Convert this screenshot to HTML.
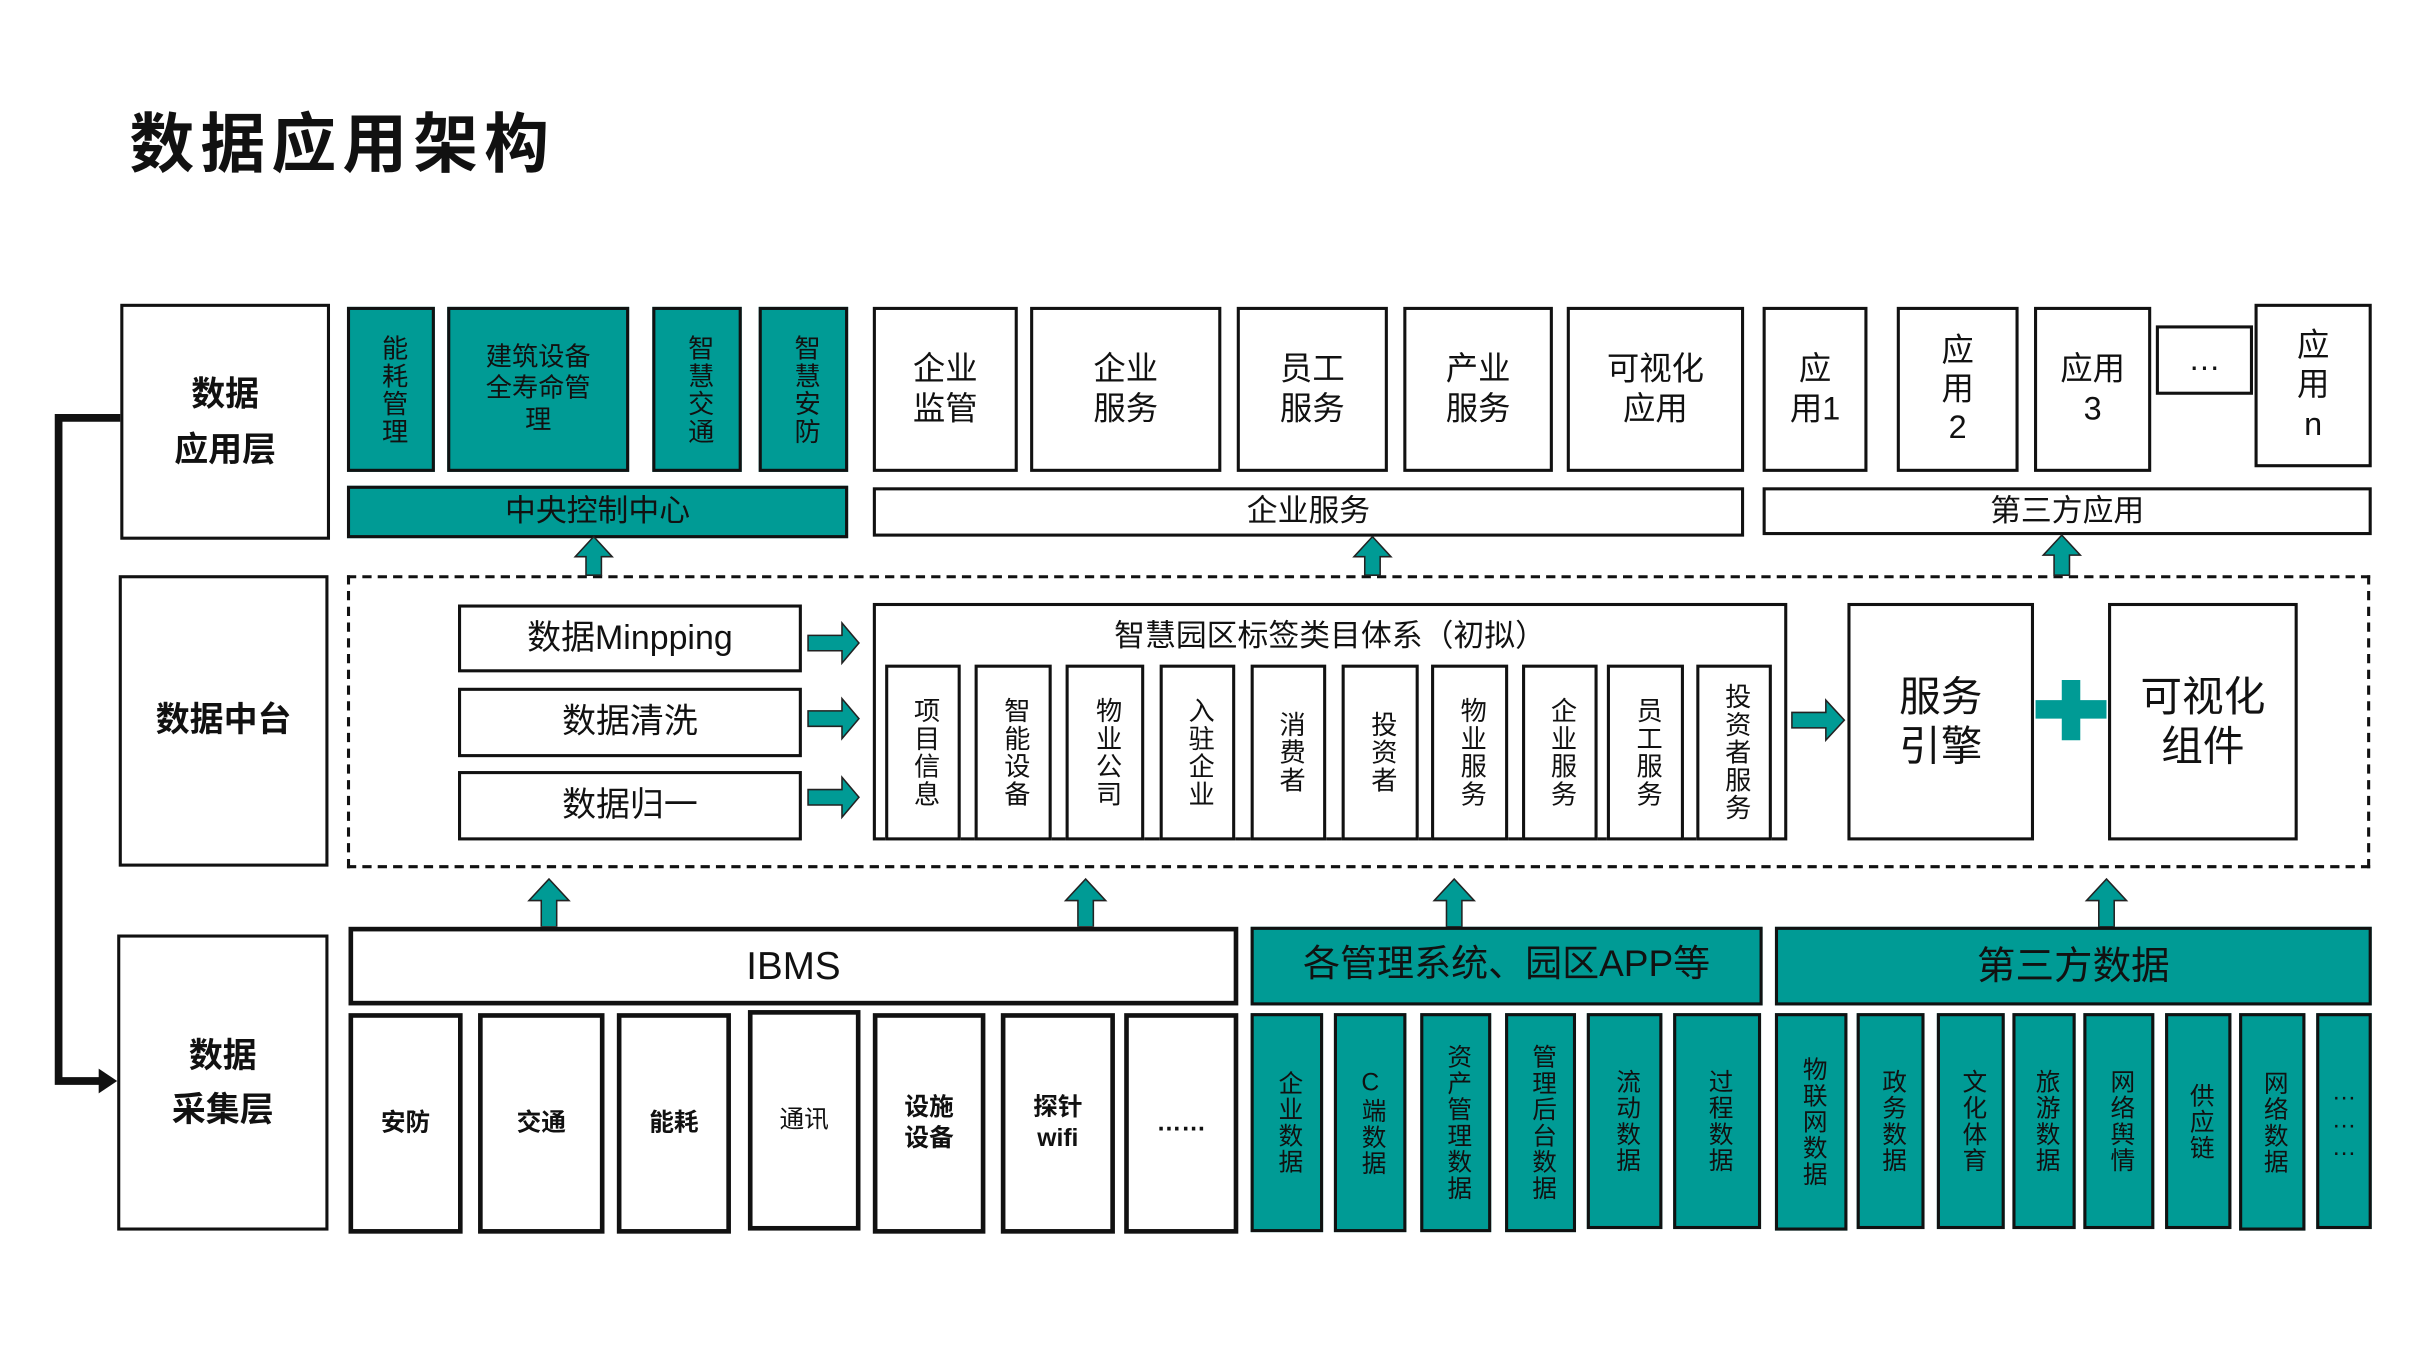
<!DOCTYPE html>
<html><head><meta charset="utf-8"><style>
html,body{margin:0;padding:0;background:#fff;}
body{width:2418px;height:1360px;overflow:hidden;position:relative;}
#s{position:absolute;left:0;top:0;width:1568px;height:882px;transform:scale(1.54209);transform-origin:0 0;font-family:"Liberation Sans","Noto Sans CJK SC",sans-serif;color:#111;}
.b{position:absolute;box-sizing:border-box;border:2px solid #111;display:flex;align-items:center;justify-content:center;text-align:center;background:#fff;line-height:1.2;}
.t{background:#009b95;}
.k{border-width:3px;}
.v{writing-mode:vertical-rl;text-orientation:upright;letter-spacing:1px;}
.bold{font-weight:bold;}
svg{position:absolute;overflow:visible;}
</style></head><body><div id="s">
<div style="position:absolute;left:84px;top:60px;font-size:42px;font-weight:bold;letter-spacing:4px;">数据应用架构</div>

<!-- left labels -->
<div class="b bold" style="left:78px;top:197px;width:136px;height:153px;font-size:22px;line-height:1.6;">数据<br>应用层</div>
<div class="b bold" style="left:77px;top:373px;width:136px;height:189px;font-size:22px;">数据中台</div>
<div class="b bold" style="left:76px;top:606px;width:137px;height:192px;font-size:22px;line-height:1.6;">数据<br>采集层</div>
<svg style="left:0;top:0" width="1568" height="882">
<polyline points="78,271 38,271 38,701 66,701" fill="none" stroke="#111" stroke-width="5"/>
<polygon points="64,693 76,701 64,709" fill="#111"/>
</svg>

<!-- top row -->
<div class="b t v" style="left:225px;top:199px;width:57px;height:107px;font-size:17px;">能耗管理</div>
<div class="b t" style="left:290px;top:199px;width:118px;height:107px;font-size:17px;">建筑设备<br>全寿命管<br>理</div>
<div class="b t v" style="left:423px;top:199px;width:58px;height:107px;font-size:17px;">智慧交通</div>
<div class="b t v" style="left:492px;top:199px;width:58px;height:107px;font-size:17px;">智慧安防</div>
<div class="b t" style="left:225px;top:315px;width:325px;height:34px;font-size:20px;">中央控制中心</div>

<div class="b" style="left:566px;top:199px;width:94px;height:107px;font-size:21px;">企业<br>监管</div>
<div class="b" style="left:668px;top:199px;width:124px;height:107px;font-size:21px;">企业<br>服务</div>
<div class="b" style="left:802px;top:199px;width:98px;height:107px;font-size:21px;">员工<br>服务</div>
<div class="b" style="left:910px;top:199px;width:97px;height:107px;font-size:21px;">产业<br>服务</div>
<div class="b" style="left:1016px;top:199px;width:115px;height:107px;font-size:21px;">可视化<br>应用</div>
<div class="b" style="left:1143px;top:199px;width:68px;height:107px;font-size:21px;">应<br>用1</div>
<div class="b" style="left:1230px;top:199px;width:79px;height:107px;font-size:21px;">应<br>用<br>2</div>
<div class="b" style="left:1319px;top:199px;width:76px;height:107px;font-size:21px;">应用<br>3</div>
<div class="b" style="left:1398px;top:211px;width:63px;height:45px;font-size:21px;">…</div>
<div class="b" style="left:1462px;top:197px;width:76px;height:106px;font-size:21px;">应<br>用<br>n</div>
<div class="b" style="left:566px;top:316px;width:565px;height:32px;font-size:20px;">企业服务</div>
<div class="b" style="left:1143px;top:316px;width:395px;height:31px;font-size:20px;">第三方应用</div>

<!-- middle -->
<div style="position:absolute;left:225px;top:373px;width:1312px;height:190px;border:2px dashed #111;box-sizing:border-box;"></div>
<div class="b" style="left:297px;top:392px;width:223px;height:44px;font-size:22px;">数据Minpping</div>
<div class="b" style="left:297px;top:446px;width:223px;height:45px;font-size:22px;">数据清洗</div>
<div class="b" style="left:297px;top:500px;width:223px;height:45px;font-size:22px;">数据归一</div>

<div class="b" style="left:566px;top:391px;width:593px;height:154px;align-items:flex-start;padding-top:8px;font-size:20px;">智慧园区标签类目体系（初拟）</div>
<div class="b v" style="left:574px;top:431px;width:49px;height:114px;font-size:17px;">项目信息</div>
<div class="b v" style="left:632px;top:431px;width:50px;height:114px;font-size:17px;">智能设备</div>
<div class="b v" style="left:691px;top:431px;width:51px;height:114px;font-size:17px;">物业公司</div>
<div class="b v" style="left:752px;top:431px;width:49px;height:114px;font-size:17px;">入驻企业</div>
<div class="b v" style="left:811px;top:431px;width:49px;height:114px;font-size:17px;">消费者</div>
<div class="b v" style="left:870px;top:431px;width:50px;height:114px;font-size:17px;">投资者</div>
<div class="b v" style="left:928px;top:431px;width:50px;height:114px;font-size:17px;">物业服务</div>
<div class="b v" style="left:987px;top:431px;width:49px;height:114px;font-size:17px;">企业服务</div>
<div class="b v" style="left:1042px;top:431px;width:50px;height:114px;font-size:17px;">员工服务</div>
<div class="b v" style="left:1100px;top:431px;width:49px;height:114px;font-size:17px;">投资者服务</div>

<div class="b" style="left:1198px;top:391px;width:121px;height:154px;font-size:27px;">服务<br>引擎</div>
<div class="b" style="left:1367px;top:391px;width:123px;height:154px;font-size:27px;">可视化<br>组件</div>

<svg style="left:0;top:0" width="1568" height="882" stroke="#222" stroke-width="1" fill="#009b95">
<!-- right arrows -->
<polygon points="524,412 546,412 546,404 557,417 546,430 546,422 524,422"/>
<polygon points="524,461 546,461 546,453 557,466 546,479 546,471 524,471"/>
<polygon points="524,512 546,512 546,504 557,517 546,530 546,522 524,522"/>
<polygon points="1162,462 1184,462 1184,454 1196,467 1184,480 1184,472 1162,472"/>
<!-- plus -->
<polygon points="1337,441 1349,441 1349,454 1366,454 1366,466 1349,466 1349,480 1337,480 1337,466 1320,466 1320,454 1337,454" stroke="none"/>
<!-- up arrows top -->
<polygon points="380,373 380,361 373,361 385,348 397,361 390,361 390,373"/>
<polygon points="885,373 885,361 878,361 890,348 902,361 895,361 895,373"/>
<polygon points="1332,373 1332,360 1325,360 1337,347 1349,360 1342,360 1342,373"/>
<!-- up arrows bottom -->
<polygon points="351,601 351,584 343,584 356,570 369,584 361,584 361,601"/>
<polygon points="699,601 699,584 691,584 704,570 717,584 709,584 709,601"/>
<polygon points="938,601 938,584 930,584 943,570 956,584 948,584 948,601"/>
<polygon points="1361,601 1361,584 1353,584 1366,570 1379,584 1371,584 1371,601"/>
</svg>

<!-- bottom -->
<div class="b k" style="left:226px;top:601px;width:577px;height:51px;font-size:25px;">IBMS</div>
<div class="b t" style="left:811px;top:601px;width:332px;height:51px;font-size:24px;">各管理系统、园区APP等</div>
<div class="b t" style="left:1151px;top:601px;width:387px;height:51px;font-size:25px;">第三方数据</div>

<div class="b k bold" style="left:226px;top:657px;width:74px;height:143px;font-size:16px;">安防</div>
<div class="b k bold" style="left:310px;top:657px;width:82px;height:143px;font-size:16px;">交通</div>
<div class="b k bold" style="left:400px;top:657px;width:74px;height:143px;font-size:16px;">能耗</div>
<div class="b k" style="left:485px;top:655px;width:73px;height:143px;font-size:16px;">通讯</div>
<div class="b k bold" style="left:566px;top:657px;width:73px;height:143px;font-size:16px;">设施<br>设备</div>
<div class="b k bold" style="left:649px;top:657px;width:74px;height:143px;font-size:16px;">探针<br>wifi</div>
<div class="b k bold" style="left:729px;top:657px;width:74px;height:143px;font-size:16px;">……</div>

<div class="b t v" style="left:811px;top:657px;width:47px;height:142px;font-size:16px;">企业数据</div>
<div class="b t v" style="left:865px;top:657px;width:47px;height:142px;font-size:16px;">C端数据</div>
<div class="b t v" style="left:921px;top:657px;width:46px;height:142px;font-size:16px;">资产管理数据</div>
<div class="b t v" style="left:976px;top:657px;width:46px;height:142px;font-size:16px;">管理后台数据</div>
<div class="b t v" style="left:1029px;top:657px;width:49px;height:140px;font-size:16px;">流动数据</div>
<div class="b t v" style="left:1085px;top:657px;width:57px;height:140px;font-size:16px;">过程数据</div>
<div class="b t v" style="left:1151px;top:657px;width:47px;height:141px;font-size:16px;">物联网数据</div>
<div class="b t v" style="left:1204px;top:657px;width:44px;height:140px;font-size:16px;">政务数据</div>
<div class="b t v" style="left:1256px;top:657px;width:44px;height:140px;font-size:16px;">文化体育</div>
<div class="b t v" style="left:1305px;top:657px;width:41px;height:140px;font-size:16px;">旅游数据</div>
<div class="b t v" style="left:1351px;top:657px;width:46px;height:140px;font-size:16px;">网络舆情</div>
<div class="b t v" style="left:1404px;top:657px;width:43px;height:140px;font-size:16px;">供应链</div>
<div class="b t v" style="left:1452px;top:657px;width:43px;height:141px;font-size:16px;">网络数据</div>
<div class="b t v" style="left:1502px;top:657px;width:36px;height:140px;font-size:16px;">………</div>
</div></body></html>
